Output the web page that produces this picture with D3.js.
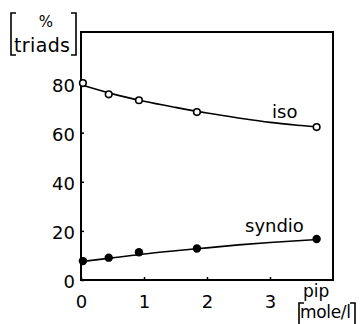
<!DOCTYPE html>
<html><head><meta charset="utf-8">
<script src="https://cdn.jsdelivr.net/npm/d3@7"></script>
<style>body{margin:0;background:#fff}svg{display:block}text{font-family:"DejaVu Sans",sans-serif;fill:#000}</style>
</head><body><svg id="c" width="362" height="324"></svg>
<script>
// Data
const pipPoints = [0.03, 0.44, 0.92, 1.84, 3.74];
const isoValues = [80.2, 75.6, 73.2, 68.4, 62.3];
const syndioValues = [7.7, 9.1, 11.3, 12.8, 16.7];
// fitted curves as drawn
const curvePip = [0, 0.5, 1, 1.5, 2, 2.5, 3, 3.5, 3.76];
const isoCurve = [79.5, 75.8, 72.8, 70.3, 68.0, 66.0, 64.2, 62.9, 62.3];
const syndioCurve = [7.5, 9.0, 10.6, 11.9, 13.1, 14.3, 15.3, 16.1, 16.5];
const xTicks = [0, 1, 2, 3];
const yTicks = [0, 20, 40, 60, 80];

const svg = d3.select("#c");
const x = d3.scaleLinear().domain([0, 4]).range([81, 333]);
const y = d3.scaleLinear().domain([0, 101]).range([280, 32]);

// frame
svg.append("rect").attr("x", x(0)).attr("y", y(101)).attr("width", x(4) - x(0)).attr("height", y(0) - y(101))
  .attr("fill", "none").attr("stroke", "#000").attr("stroke-width", 2);

// axes with inward ticks
const xa = svg.append("g").attr("transform", `translate(0,${y(0)})`)
  .call(d3.axisBottom(x).tickValues(xTicks).tickSizeInner(-3).tickSizeOuter(0).tickPadding(15).tickFormat(d3.format("d")));
const ya = svg.append("g").attr("transform", `translate(${x(0)},0)`)
  .call(d3.axisLeft(y).tickValues(yTicks).tickSizeInner(-3).tickSizeOuter(0).tickPadding(6).tickFormat(d3.format("d")));
[xa, ya].forEach(g => {
  g.select(".domain").remove();
  g.selectAll("line").attr("stroke", "#000").attr("stroke-width", 1.5);
  g.selectAll("text").attr("font-size", 18).attr("font-family", "DejaVu Sans").attr("fill", "#000");
});
ya.selectAll("text").attr("dy", "0.42em");
xa.selectAll("text").attr("dy", "0.72em");

// curves
const line = d3.line().x(d => x(d[0])).y(d => y(d[1])).curve(d3.curveMonotoneX);
svg.append("path").datum(d3.zip(curvePip, isoCurve)).attr("d", line)
  .attr("fill", "none").attr("stroke", "#000").attr("stroke-width", 1.6);
svg.append("path").datum(d3.zip(curvePip, syndioCurve)).attr("d", line)
  .attr("fill", "none").attr("stroke", "#000").attr("stroke-width", 1.6);

// markers
svg.selectAll(".iso").data(d3.zip(pipPoints, isoValues)).join("circle")
  .attr("cx", d => x(d[0])).attr("cy", d => y(d[1])).attr("r", 3.3)
  .attr("fill", "#fff").attr("stroke", "#000").attr("stroke-width", 1.6);
svg.selectAll(".syn").data(d3.zip(pipPoints, syndioValues)).join("circle")
  .attr("cx", d => x(d[0])).attr("cy", d => y(d[1])).attr("r", 4.2)
  .attr("fill", "#000");

// series labels
svg.append("text").attr("x", 272).attr("y", 118).attr("font-size", 18).text("iso");
svg.append("text").attr("x", 245).attr("y", 232).attr("font-size", 18).text("syndio");

// x axis title
svg.append("text").attr("x", 303).attr("y", 297).attr("font-size", 17).text("pip");
svg.append("text").attr("x", 300).attr("y", 318).attr("font-size", 17).attr("textLength", 51).text("mole/l");
svg.append("path").attr("d", "M299,330 V303 H304").attr("fill", "none").attr("stroke", "#000").attr("stroke-width", 1.6);
svg.append("path").attr("d", "M350,303 H355 V330").attr("fill", "none").attr("stroke", "#000").attr("stroke-width", 1.6);

// y axis title
svg.append("text").attr("x", 46).attr("y", 27).attr("font-size", 15).attr("text-anchor", "middle").text("%");
svg.append("text").attr("x", 14).attr("y", 52).attr("font-size", 19).attr("textLength", 56).text("triads");
svg.append("path").attr("d", "M16,13 H11 V55 H16").attr("fill", "none").attr("stroke", "#000").attr("stroke-width", 1.6);
svg.append("path").attr("d", "M71,13 H76 V55 H71").attr("fill", "none").attr("stroke", "#000").attr("stroke-width", 1.6);
</script></body></html>
